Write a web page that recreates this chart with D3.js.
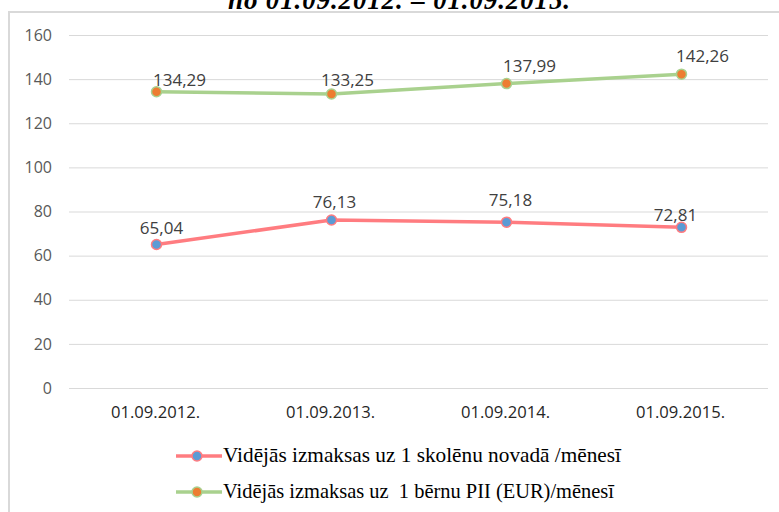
<!DOCTYPE html>
<html><head><meta charset="utf-8">
<script src="https://cdn.jsdelivr.net/npm/d3@7"></script>
<style>body{margin:0;background:#fff;} svg{display:block;}</style>
</head><body>
<script>
const categories = ["01.09.2012.", "01.09.2013.", "01.09.2014.", "01.09.2015."];
const seriesNames = ["Vidējās izmaksas uz 1 skolēnu novadā /mēnesī", "Vidējās izmaksas uz  1 bērnu PII (EUR)/mēnesī"];
const skolenuValues = [65.04, 76.13, 75.18, 72.81];
const berniValues = [134.29, 133.25, 137.99, 142.26];
const yTicks = [0, 20, 40, 60, 80, 100, 120, 140, 160];
const titleText = "no 01.09.2012. – 01.09.2015.";

// label offsets (style, not data)
const labelOffsets = [
  [[5, -11], [3, -12], [4, -16], [-6, -6]],
  [[23, -6], [16, -8], [23, -12], [21, -12]]
];

const W = 779, H = 512;
const svg = d3.select("body").append("svg").attr("width", W).attr("height", H);

// frame
svg.append("rect").attr("x", 9).attr("y", 12).attr("width", W + 20).attr("height", H + 20)
  .attr("fill", "none").attr("stroke", "#d9d9d9").attr("stroke-width", 2);

// title (cut off at top, as in the reference)
svg.append("text").attr("x", 399).attr("y", 9).attr("text-anchor", "middle")
  .attr("font-family", "Liberation Serif").attr("font-weight", "bold").attr("font-style", "italic")
  .attr("font-size", 27).attr("fill", "#000").attr("textLength", 342).text(titleText);

const x = d3.scaleBand().domain(categories).range([69, 769]);
const y = d3.scaleLinear().domain([0, 160]).range([388, 35]);

// gridlines
svg.append("g").selectAll("line").data(yTicks).join("line")
  .attr("x1", 69).attr("x2", 768).attr("y1", d => y(d) + 0.5).attr("y2", d => y(d) + 0.5)
  .attr("stroke", "#d9d9d9").attr("stroke-width", 1);

// y axis labels
const yAxis = d3.axisLeft(y).tickValues(yTicks).tickSize(0).tickPadding(0).tickFormat(d3.format("d"));
const ga = svg.append("g").attr("transform", "translate(52,0)").call(yAxis);
ga.select(".domain").remove();
ga.selectAll("text").attr("font-family", "Open Sans").attr("font-size", 16).attr("fill", "#595959");

// x axis labels
const xAxis = d3.axisBottom(x).tickSize(0).tickPadding(0);
const gx = svg.append("g").attr("transform", "translate(-1,418)").call(xAxis);
gx.select(".domain").remove();
gx.selectAll("text").attr("font-family", "Open Sans").attr("font-size", 15.5).attr("fill", "#262626")
  .attr("dy", "0").attr("textLength", 89).attr("lengthAdjust", "spacingAndGlyphs");

const series = [
  {name: seriesNames[0], values: skolenuValues, line: "#ff7c80", fill: "#5b9bd5"},
  {name: seriesNames[1], values: berniValues, line: "#a9d18e", fill: "#ed7d31"}
];
const cx = c => x(c) + x.bandwidth() / 2;
const fmt = v => d3.format(".2f")(v).replace(".", ",");

series.forEach((s, si) => {
  const pts = categories.map((c, i) => [c, s.values[i]]);
  svg.append("path").datum(pts)
    .attr("d", d3.line().x(d => cx(d[0])).y(d => y(d[1])))
    .attr("fill", "none").attr("stroke", s.line).attr("stroke-width", 3.5).attr("stroke-linejoin", "round");
  svg.append("g").selectAll("circle").data(pts).join("circle")
    .attr("cx", d => cx(d[0])).attr("cy", d => y(d[1])).attr("r", 5)
    .attr("fill", s.fill).attr("stroke", s.line).attr("stroke-width", 1.5);
  svg.append("g").selectAll("text").data(pts).join("text")
    .attr("x", (d, i) => cx(d[0]) + labelOffsets[si][i][0])
    .attr("y", (d, i) => y(d[1]) + labelOffsets[si][i][1])
    .attr("text-anchor", "middle")
    .attr("font-family", "Open Sans").attr("font-size", 17).attr("fill", "#404040")
    .text(d => fmt(d[1]));
});

// legend
const legY = [456, 492];
const legLen = [398, 391];
series.forEach((s, si) => {
  const g = svg.append("g");
  g.append("line").attr("x1", 176).attr("x2", 222).attr("y1", legY[si]).attr("y2", legY[si])
    .attr("stroke", s.line).attr("stroke-width", 3.5);
  g.append("circle").attr("cx", 197).attr("cy", legY[si]).attr("r", 5)
    .attr("fill", s.fill).attr("stroke", s.line).attr("stroke-width", 1.5);
  g.append("text").attr("x", 223).attr("y", legY[si] + 6)
    .attr("font-family", "Liberation Serif").attr("font-size", 21.5).attr("fill", "#000")
    .attr("textLength", legLen[si]).attr("lengthAdjust", "spacingAndGlyphs")
    .style("white-space", "pre").text(s.name);
});
</script>
</body></html>
